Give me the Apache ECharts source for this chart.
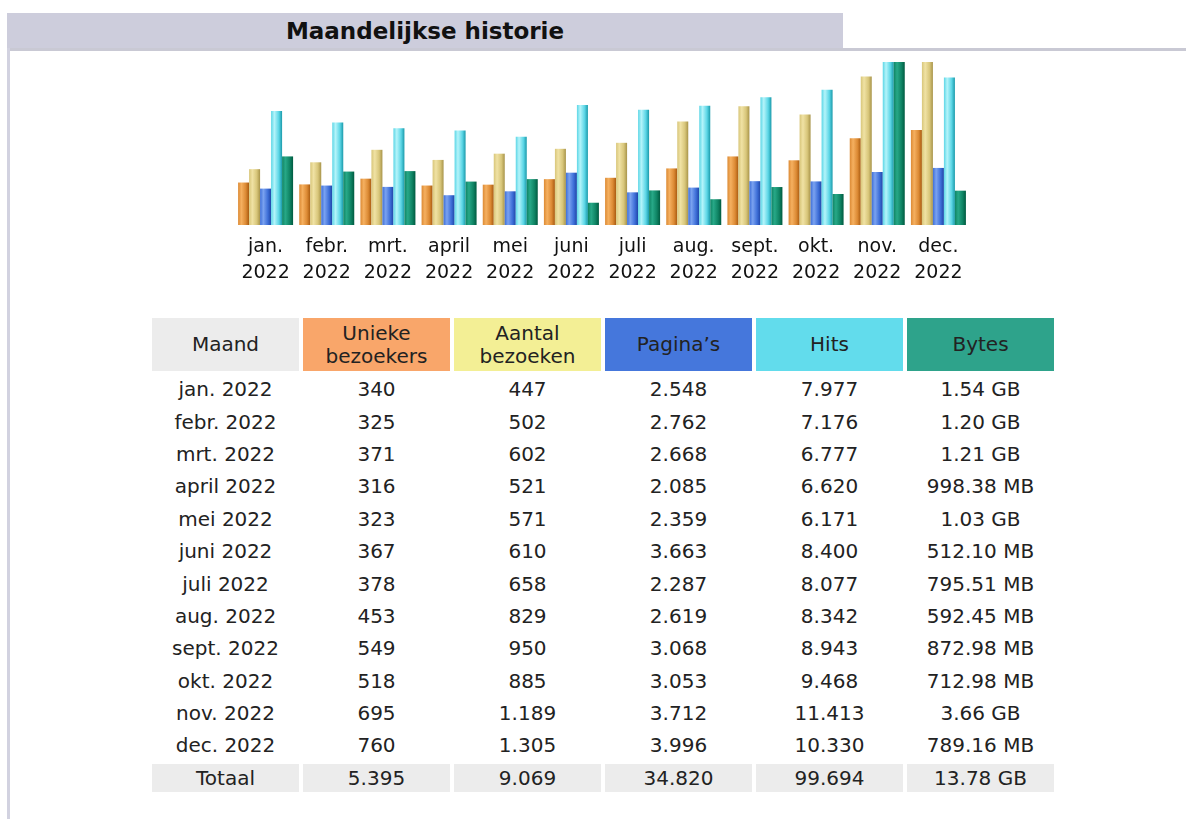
<!DOCTYPE html>
<html>
<head>
<meta charset="utf-8">
<script src="https://cdn.jsdelivr.net/npm/echarts@6/dist/echarts.min.js"></script>
<style>
  html, body { margin: 0; padding: 0; background: #fff; }
  body { width: 1186px; height: 819px; position: relative; overflow: hidden; font-family: "DejaVu Sans", Verdana, sans-serif; color: #222; }
  #titlebar { position: absolute; left: 7px; top: 13px; width: 836px; height: 36px; background: #cdcddc; text-align: center; font-weight: bold; font-size: 23px; line-height: 37px; color: #111; }
  #topline { position: absolute; left: 7px; top: 48px; width: 1179px; height: 3px; background: #c9c9d4; }
  #leftline { position: absolute; left: 7px; top: 48px; width: 3px; height: 771px; background: #d2d2e0; }
  #chart { position: absolute; left: 0; top: 0; width: 1186px; height: 300px; }
  #tbl { position: absolute; left: 148px; top: 314px; border-collapse: separate; border-spacing: 4px; font-size: 20px; }
  #tbl td, #tbl th { width: 147px; padding: 0; text-align: center; font-weight: normal; }
  #tbl th { height: 53px; line-height: 23px; }
  #tbl td { height: 28.4px; line-height: 28px; }
  #tbl tr.total td { background: #ececec; }
</style>
</head>
<body>
<div id="titlebar">Maandelijkse historie</div>
<div id="topline"></div>
<div id="leftline"></div>
<div id="chart"></div>
<table id="tbl"></table>
<script>
// maanden en waarden (AWStats maandoverzicht 2022)
const months = ["jan.", "febr.", "mrt.", "april", "mei", "juni", "juli", "aug.", "sept.", "okt.", "nov.", "dec."];
const year = "2022";
const uniqueVisitors = [340, 325, 371, 316, 323, 367, 378, 453, 549, 518, 695, 760];
const visits = [447, 502, 602, 521, 571, 610, 658, 829, 950, 885, 1189, 1305];
const pages = [2548, 2762, 2668, 2085, 2359, 3663, 2287, 2619, 3068, 3053, 3712, 3996];
const hits = [7977, 7176, 6777, 6620, 6171, 8400, 8077, 8342, 8943, 9468, 11413, 10330];
// bytes in MB (1 GB = 1024 MB)
const bytesMB = [1576.96, 1228.8, 1239.04, 998.38, 1054.72, 512.10, 795.51, 592.45, 872.98, 712.98, 3747.84, 789.16];
const headers = ["Maand", "Unieke<br>bezoekers", "Aantal<br>bezoeken", "Pagina’s", "Hits", "Bytes"];
const headerColors = ["#ececec", "#f9a66a", "#f3ef95", "#4577dc", "#62dcec", "#2ea38b"];
const totalsRow = ["Totaal", "5.395", "9.069", "34.820", "99.694", "13.78 GB"];

const fmt = n => String(n).replace(/\B(?=(\d{3})+(?!\d))/g, ".");
const fmtBytes = v => v >= 1024 ? (v / 1024).toFixed(2) + " GB" : v.toFixed(2) + " MB";

// cilinder-achtige kleurverloop per balk
function cyl(dark, light, mid) {
  return new echarts.graphic.LinearGradient(0, 0, 1, 0, [
    { offset: 0, color: mid },
    { offset: 0.3, color: light },
    { offset: 0.7, color: mid },
    { offset: 1, color: dark },
  ]);
}

const chart = echarts.init(document.getElementById("chart"));

const barSeries = (name, data, axis, grad) => ({
  name,
  type: "bar",
  yAxisIndex: axis,
  data,
  barWidth: 11,
  barGap: "0%",
  itemStyle: { color: grad },
  animation: false,
});

chart.setOption({
  animation: false,
  grid: { left: 235, width: 734, top: 62, height: 163 },
  xAxis: {
    type: "category",
    data: months.map(m => m + "\n" + year),
    axisLine: { show: false },
    axisTick: { show: false },
    axisLabel: {
      interval: 0,
      margin: 9,
      fontSize: 19,
      lineHeight: 26,
      color: "#111",
      fontFamily: "DejaVu Sans",
    },
  },
  yAxis: [
    { type: "value", min: 0, max: v => v.max, show: false, splitLine: { show: false } },
    { type: "value", min: 0, max: v => v.max, show: false, splitLine: { show: false } },
    { type: "value", min: 0, max: v => v.max, show: false, splitLine: { show: false } },
  ],
  series: [
    barSeries("Unieke bezoekers", uniqueVisitors, 0, cyl("#a85a10", "#f5b060", "#dc8a34")),
    barSeries("Aantal bezoeken", visits, 0, cyl("#a8944a", "#f0e2a4", "#d8c67a")),
    barSeries("Pagina's", pages, 1, cyl("#1f45a8", "#7aa2f0", "#3e6fd8")),
    barSeries("Hits", hits, 1, cyl("#1a9aaa", "#b4f4fa", "#5cd6e6")),
    barSeries("Bytes", bytesMB, 2, cyl("#005a40", "#27a887", "#0f8464")),
  ],
});

// tabel opbouwen uit dezelfde arrays
const tbl = document.getElementById("tbl");
let html = "<tr>" + headers.map((h, i) => `<th style="background:${headerColors[i]}">${h}</th>`).join("") + "</tr>";
months.forEach((m, i) => {
  const row = [m + " " + year, fmt(uniqueVisitors[i]), fmt(visits[i]), fmt(pages[i]), fmt(hits[i]), fmtBytes(bytesMB[i])];
  html += "<tr>" + row.map(c => `<td>${c}</td>`).join("") + "</tr>";
});
html += '<tr class="total">' + totalsRow.map(c => `<td>${c}</td>`).join("") + "</tr>";
tbl.innerHTML = html;
</script>
</body>
</html>
